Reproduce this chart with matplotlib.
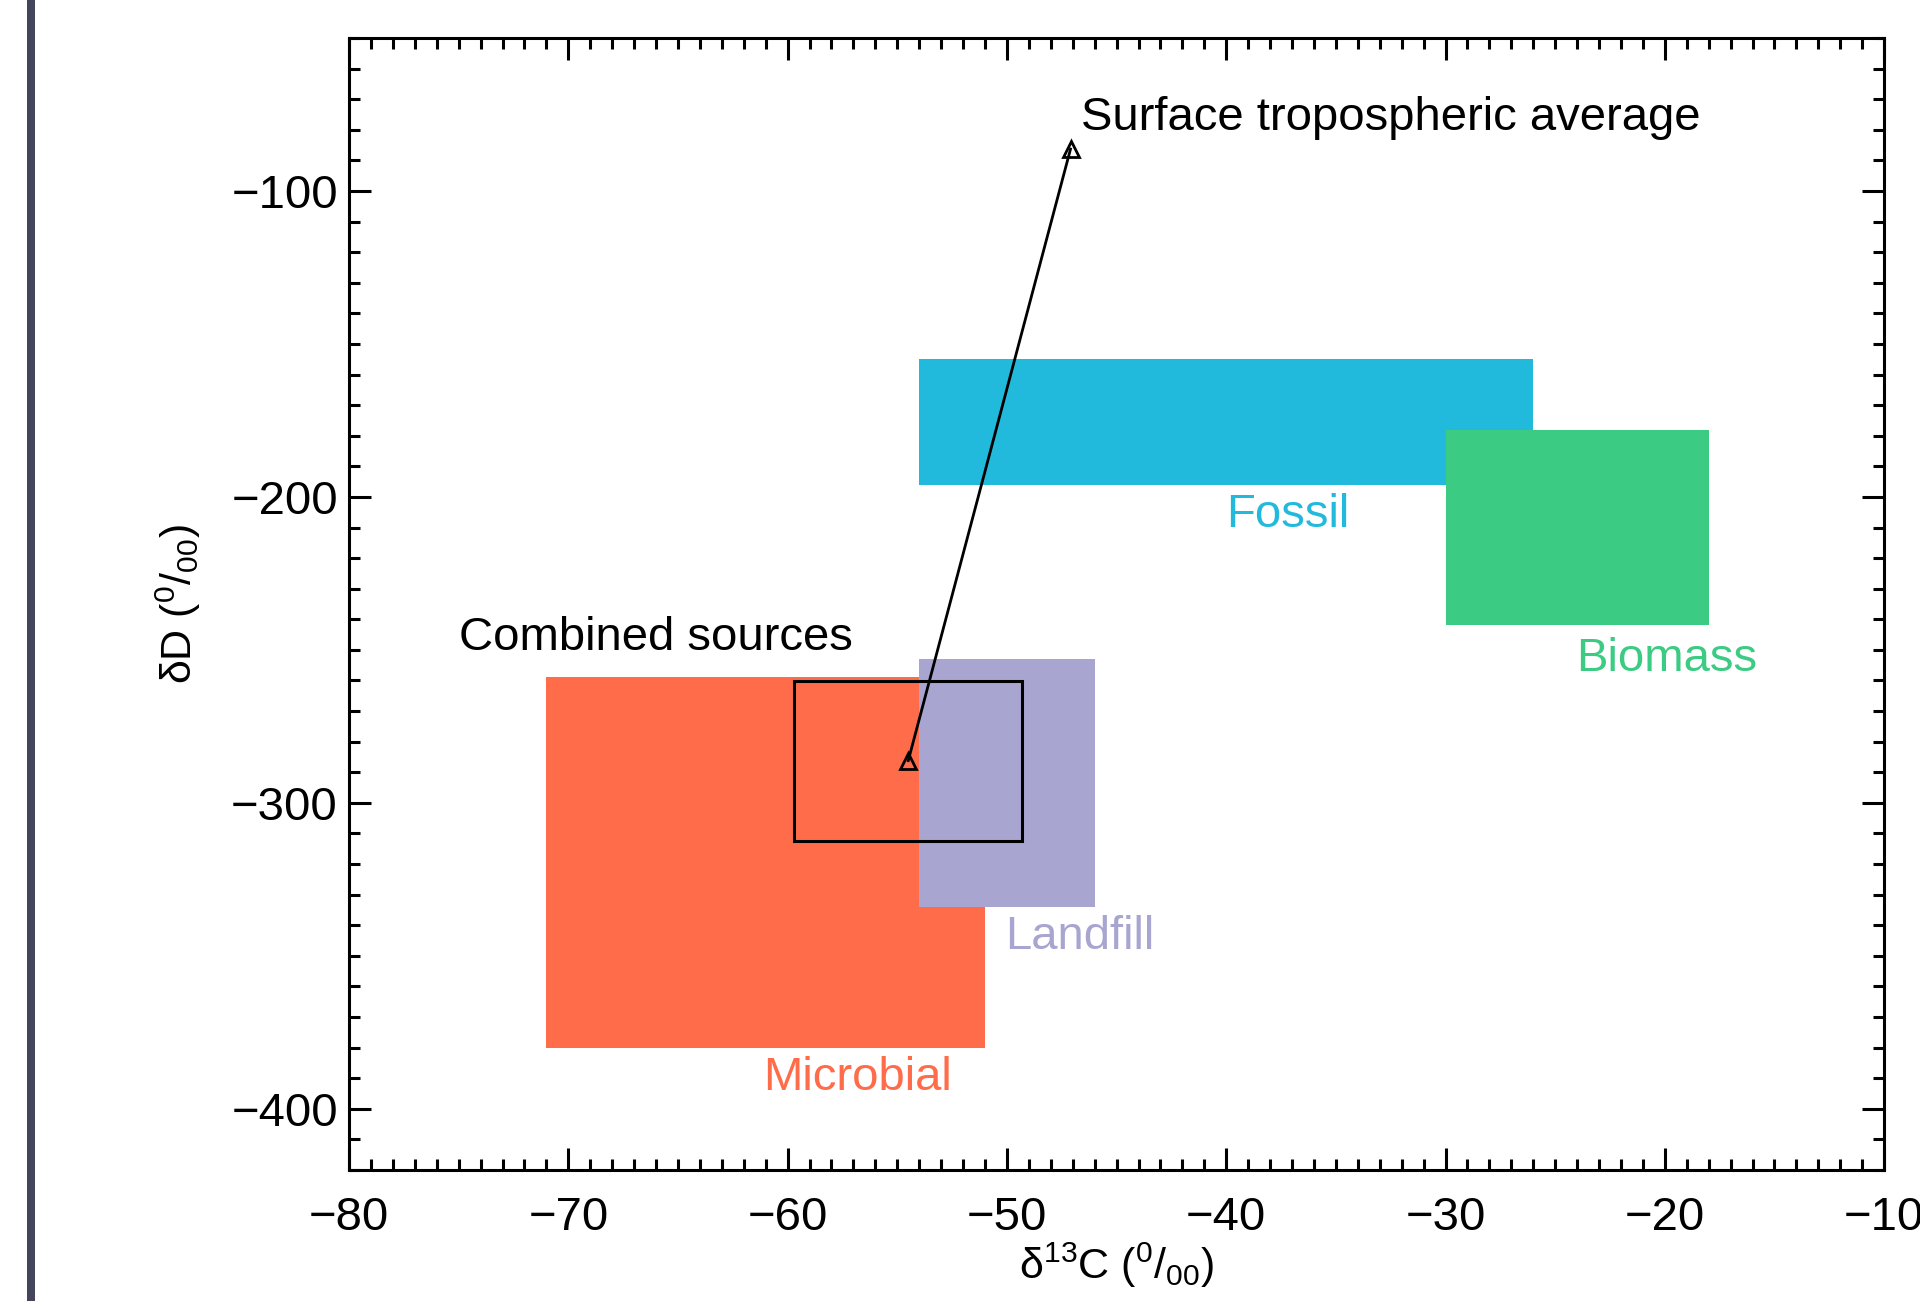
import matplotlib
matplotlib.use("Agg")
import matplotlib.pyplot as plt
from matplotlib.patches import Rectangle
from matplotlib.ticker import MultipleLocator

plt.rcParams['font.family'] = ['Liberation Sans', 'DejaVu Sans']
plt.rcParams['mathtext.fontset'] = 'custom'
plt.rcParams['mathtext.rm'] = 'Liberation Sans'
plt.rcParams['mathtext.it'] = 'Liberation Sans:italic'

# Source boxes: name, (x0, x1) in d13C, (y0, y1) in dD, colour
sources = ["Fossil", "Biomass", "Microbial", "Landfill"]
src_x = [(-54, -26), (-30, -18), (-71, -51), (-54, -46)]
src_y = [(-196, -155), (-242, -178), (-380, -259), (-334, -253)]
src_colors = ["#21BADD", "#3BCB83", "#FF6C4A", "#A8A6D0"]
label_pos = [(-37.2, -206), (-19.9, -253), (-56.8, -390), (-46.7, -344)]

combined_x = (-59.7, -49.3)
combined_y = (-312.4, -260.3)

avg_x = [-54.5, -47.1]
avg_y = [-286.2, -86.3]

FS = 34
LFS = 31

fig = plt.figure(figsize=(19.2, 13.01), dpi=100)
ax = fig.add_axes([0.1818, 0.1007, 0.7995, 0.8701])

for name, (x0, x1), (y0, y1), c, (lx, ly) in zip(sources, src_x, src_y, src_colors, label_pos):
    ax.add_patch(Rectangle((x0, y0), x1 - x0, y1 - y0, facecolor=c, edgecolor='none', zorder=1))
    ax.text(lx, ly, name, color=c, fontsize=FS, ha='center', va='center', zorder=3)

ax.add_patch(Rectangle((combined_x[0], combined_y[0]), combined_x[1] - combined_x[0],
                       combined_y[1] - combined_y[0], facecolor='none', edgecolor='black',
                       linewidth=2.2, zorder=4))
ax.text(-75.0, -246, "Combined sources", fontsize=FS, ha='left', va='center', zorder=5)

ax.plot(avg_x, avg_y, color='black', linewidth=2.0, marker='^', markersize=12,
        markerfacecolor='none', markeredgecolor='black', markeredgewidth=2.0, zorder=6)
ax.text(-46.6, -76.2, "Surface tropospheric average", fontsize=FS, ha='left', va='center', zorder=5)

ax.set_xlim(-80, -10)
ax.set_ylim(-420, -50)
ax.xaxis.set_major_locator(MultipleLocator(10))
ax.xaxis.set_minor_locator(MultipleLocator(1))
ax.yaxis.set_major_locator(MultipleLocator(100))
ax.yaxis.set_minor_locator(MultipleLocator(10))
ax.set_yticks([-100, -200, -300, -400])
ax.tick_params(which='both', direction='in', top=True, right=True, width=2.2, labelsize=FS)
ax.tick_params(which='major', length=16)
ax.tick_params(which='minor', length=8)
ax.tick_params(axis='x', pad=19)
ax.tick_params(axis='y', pad=8)
for sp in ax.spines.values():
    sp.set_linewidth(2.2)

ax.set_xlabel('δ$^{13}$C ($^{0}$/$_{00}$)', fontsize=LFS, labelpad=0)
ax.set_ylabel('δD ($^{0}$/$_{00}$)', fontsize=LFS, labelpad=20)

fig.patches.append(Rectangle((27 / 1920, 0), 8 / 1920, 1, transform=fig.transFigure,
                             facecolor='#44445A', edgecolor='none'))

fig.savefig("out.png", dpi=100)
